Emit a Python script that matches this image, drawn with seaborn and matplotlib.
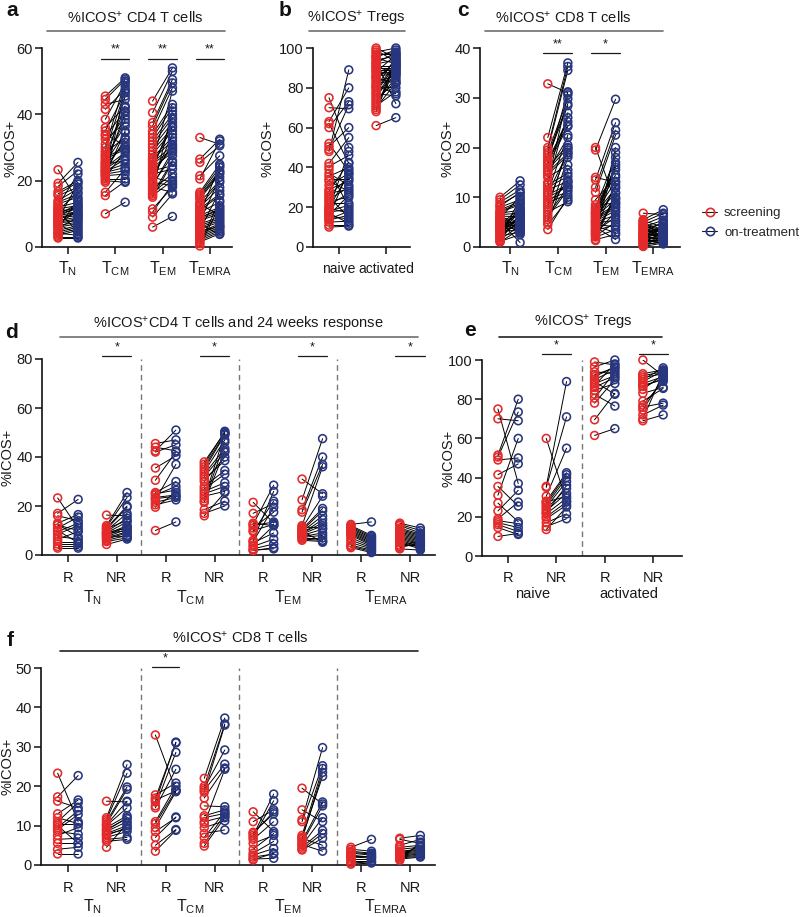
import numpy as np
import pandas as pd
import matplotlib
matplotlib.use("Agg")
import matplotlib.pyplot as plt
import seaborn as sns
from matplotlib.lines import Line2D

# ---------------- data ----------------
# panel a: %ICOS+ CD4 T cells (screening vs on-treatment)
a_categories = ["$T_{N}$", "$T_{CM}$", "$T_{EM}$", "$T_{EMRA}$"]
a_TN_scr = [23.3, 19.2, 18.3, 16.7, 16.0, 15.5, 14.0, 13.5, 13.0, 12.5, 12.0, 11.5, 11.0, 10.5, 10.0, 9.8, 9.5, 9.0, 8.7, 8.5,
            8.0, 7.5, 7.2, 7.0, 6.5, 6.0, 5.5, 5.0, 4.5, 4.0, 3.5, 3.0, 2.7, 11.8, 10.8, 9.2, 8.2, 6.8, 5.8, 4.2]
a_TN_trt = [14.0, 25.5, 23.0, 20.0, 19.5, 18.0, 17.5, 16.0, 15.0, 22.0, 13.5, 12.5, 16.5, 12.0, 11.5, 13.0, 10.5, 10.0, 9.5, 19.0,
            9.0, 8.5, 8.0, 11.0, 7.5, 7.0, 14.5, 6.5, 6.0, 5.5, 5.0, 3.0, 2.7, 9.8, 4.5, 12.2, 10.8, 4.0, 8.8, 3.5]
a_TCM_scr = [45.5, 44.5, 43.0, 41.5, 38.5, 36.0, 35.0, 33.5, 32.5, 31.0, 30.0, 28.5, 27.5, 27.0, 26.5, 26.0, 25.5, 25.0, 24.5, 24.0,
             23.5, 23.0, 22.5, 22.0, 21.5, 21.0, 20.5, 20.0, 19.5, 16.5, 15.5, 10.0, 25.2, 24.2, 22.8, 21.8, 27.8, 29.0, 34.0, 23.2]
a_TCM_trt = [51.0, 50.5, 44.5, 47.5, 49.5, 42.5, 46.5, 41.0, 37.5, 39.5, 50.0, 33.0, 36.5, 30.0, 29.5, 38.5, 34.5, 26.0, 31.5, 28.5,
             27.5, 25.0, 24.0, 23.0, 22.0, 29.0, 20.5, 19.5, 48.5, 23.5, 19.8, 13.5, 45.5, 40.5, 26.5, 35.0, 42.0, 47.0, 30.5, 32.5]
a_TEM_scr = [44.0, 40.5, 37.5, 36.5, 35.0, 34.0, 33.0, 32.0, 31.0, 30.0, 29.0, 28.0, 27.0, 26.5, 25.5, 25.0, 24.0, 23.5, 23.0, 22.0,
             21.5, 21.0, 20.0, 19.5, 19.0, 18.0, 17.5, 17.0, 16.0, 15.5, 15.0, 11.5, 10.5, 9.0, 6.0, 26.0, 24.5, 22.5, 18.5, 16.5]
a_TEM_trt = [54.0, 53.0, 50.5, 49.5, 48.0, 43.0, 42.0, 40.0, 39.0, 37.5, 36.0, 35.0, 33.0, 32.0, 30.5, 29.5, 28.5, 38.5, 24.5, 23.5,
             31.0, 19.5, 34.0, 18.5, 27.5, 16.5, 22.0, 41.0, 26.0, 20.0, 25.5, 18.0, 19.0, 16.0, 9.2, 47.0, 36.5, 30.0, 29.0, 21.0]
a_TEMRA_scr = [33.0, 26.5, 25.5, 21.5, 20.5, 16.5, 16.0, 15.5, 15.0, 14.5, 13.5, 12.5, 12.0, 11.5, 11.0, 10.5, 10.0, 9.5, 9.0, 8.5,
               8.0, 7.5, 7.0, 6.5, 6.0, 5.5, 5.0, 4.5, 4.0, 3.5, 3.0, 2.5, 2.0, 1.5, 1.0, 0.3, 13.0, 8.8, 6.8, 4.8]
a_TEMRA_trt = [31.0, 32.5, 30.5, 27.5, 32.0, 25.0, 24.0, 23.0, 22.5, 22.0, 20.0, 19.5, 18.0, 16.0, 15.5, 13.5, 24.5, 12.0, 11.0, 10.5,
               10.0, 21.0, 9.0, 8.5, 8.0, 7.5, 17.0, 7.0, 6.5, 6.0, 5.5, 5.0, 4.5, 4.0, 14.0, 12.5, 9.5, 11.5, 3.8, 6.2]
a_sig = [(1, "**"), (2, "**"), (3, "**")]

# panel b: %ICOS+ Tregs
b_categories = ["naive", "activated"]
b_naive_scr = [75, 70, 63, 62, 60, 52, 50.5, 49, 48, 42, 40.5, 39, 37, 35.5, 34, 33, 31, 29, 28, 27,
               26, 25, 24, 23, 22, 21, 20, 19.5, 19, 18, 17.5, 17, 16, 15.5, 15, 14, 13.5, 12.5, 11, 10]
b_naive_trt = [50, 69.5, 80, 42, 73, 38, 60, 71.5, 89, 55, 46, 20, 31, 40, 34, 28, 37, 33, 42.5, 29,
               35, 15, 30, 25, 22, 27, 36.5, 17, 48, 21, 19, 12, 26, 14, 39, 18, 16, 13, 11, 10.5]
b_act_scr = [100, 99, 98, 97, 96, 95, 94, 93, 92, 91, 90, 89, 88, 87, 86, 85, 84, 83, 82, 81,
             80, 79, 78, 77, 76, 75, 74, 73, 72, 71, 70, 69, 68, 61, 92.5, 88.5, 85.5, 80.5, 95.5, 90.5]
b_act_trt = [95, 93, 100, 97, 98, 92, 96, 72, 94, 91, 90, 89, 96.5, 88, 87, 82, 93.5, 86, 84, 77,
             95.5, 92.5, 91.5, 76, 90.5, 89.5, 83, 85, 88.5, 78, 82.5, 94.5, 92.8, 65, 97.5, 86.5, 91.2, 80, 99, 87.5]

# panel c: %ICOS+ CD8 T cells
c_TN_scr = [10, 9.5, 9, 8.5, 8, 7.5, 7, 6.8, 6.5, 6.2, 6, 5.7, 5.5, 5.2, 5, 4.7, 4.5, 4.2, 4, 3.7,
            3.5, 3.2, 3, 2.8, 2.5, 2.2, 2, 1.8, 1.5, 1.3, 1.1, 1.0, 5.8, 4.8, 3.8, 6.3, 7.2, 2.6, 8.2, 3.4]
c_TN_trt = [13.3, 12.5, 11.5, 10.8, 9.5, 9.1, 8.5, 7.4, 6.8, 6.1, 5.1, 4.1, 3.4, 2.8, 0.9, 6.5, 7.8, 5.5, 4.5, 3.8,
            5.8, 7.0, 8.0, 6.3, 4.8, 3.0, 5.3, 9.8, 4.3, 6.6, 2.5, 3.6, 10.2, 5.0, 7.2, 4.0, 8.8, 6.0, 11.0, 3.2]
c_TCM_scr = [32.8, 22, 20, 19.5, 19, 18.5, 18, 17.5, 17, 16.5, 16, 15.5, 15, 14.5, 13, 12.5, 12, 11.5, 11, 10.5,
             10, 9.5, 9, 8.5, 8, 7.5, 7, 6.5, 6, 5.5, 5, 4.5, 3.5, 17.2, 15.2, 12.8, 10.8, 8.8, 14, 16.8]
c_TCM_trt = [31, 37, 36.3, 35.5, 29.8, 28.8, 28.4, 25.2, 31.2, 24.2, 20.5, 19.9, 18.9, 18.5, 30.6, 14.8, 14.2, 13.2, 22.5, 12.5,
             12.1, 11.1, 10.5, 19.5, 20, 13.5, 9.1, 12, 11.5, 18, 15.5, 9.5, 10, 24.5, 22, 27, 19, 13, 16.5, 26]
c_TEM_scr = [20, 19.5, 14, 13.5, 12, 11, 8, 7.8, 7.5, 7.2, 7, 6.8, 6.5, 6.2, 6, 5.8, 5.5, 5.2, 5, 4.8,
             4.5, 4.2, 4, 3.8, 3.5, 3.2, 3, 2.8, 2.5, 2.2, 2, 1.5, 1.3, 8.5, 9.5, 6.6, 5.3, 4.6, 3.3, 2.6]
c_TEM_trt = [9, 29.7, 13, 25, 23.5, 22.5, 18, 16, 15.5, 14.5, 13.2, 11.8, 10.8, 9.5, 8.5, 8.1, 7.8, 7.3, 6.4, 5.4,
             4.1, 2.9, 1.5, 12.5, 17, 6, 10, 7, 20, 5, 3.5, 2.5, 11, 8.8, 14, 16.5, 12, 19, 4.5, 9.8]
c_TEMRA_scr = [6.8, 5.5, 5.3, 5, 4.8, 4.5, 4.3, 4, 3.8, 3.5, 3.3, 3, 2.8, 2.5, 2.3, 2, 1.8, 1.5, 1.3, 1,
               0.8, 0.5, 0.3, 0.1, 4.2, 3.6, 3.1, 2.6, 2.1, 1.6, 1.1, 0.7, 4.6, 3.9, 2.9, 1.9, 5.2, 2.4, 1.4, 0.4]
c_TEMRA_trt = [6.5, 7.5, 4, 6.8, 3.5, 6.1, 3, 5.4, 2.8, 4.8, 2.5, 3.3, 2, 2.3, 4.2, 1.8, 3.8, 1.5, 2.6, 1.2,
               3.1, 1, 2.1, 0.8, 2.9, 1.7, 3.6, 2.4, 1.4, 0.6, 4.5, 2.2, 3.2, 1.9, 5, 2.7, 1.6, 3.4, 2, 1.1]
c_sig = [(1, "**"), (2, "*")]

# panel d: %ICOS+ CD4 T cells by 24-week response (R / NR)
resp_labels = ["R", "NR", "R", "NR", "R", "NR", "R", "NR"]
d_TN_R_scr = [23.3, 17.0, 16.0, 13.0, 12.2, 11.0, 10.0, 9.5, 8.5, 7.5, 6.5, 5.5, 4.5, 3.5, 2.8, 12.5]
d_TN_R_trt = [11.0, 22.7, 14.0, 16.5, 10.0, 15.5, 5.0, 13.0, 12.0, 6.5, 9.5, 5.5, 4.5, 3.5, 2.8, 7.5]
d_TN_NR_scr = [16.3, 12.0, 11.5, 11.0, 10.5, 10.0, 9.5, 9.0, 8.5, 8.0, 7.5, 7.0, 6.5, 6.0, 5.5, 4.3, 10.8, 9.2, 7.8, 8.8]
d_TN_NR_trt = [16.0, 25.5, 23.5, 20.0, 19.5, 17.0, 15.0, 13.5, 12.0, 11.5, 10.5, 9.5, 9.0, 8.0, 7.0, 6.5, 14.0, 11.0, 7.5, 10.0]
d_TCM_R_scr = [45.5, 44.0, 42.5, 42.0, 35.5, 30.5, 25.5, 24.5, 23.5, 22.5, 21.5, 20.5, 19.5, 10.0, 25.0, 23.0]
d_TCM_R_trt = [47.0, 42.5, 51.0, 45.0, 40.5, 42.0, 30.0, 28.0, 24.5, 37.0, 23.5, 22.5, 25.5, 13.5, 26.5, 24.0]
d_TCM_NR_scr = [38, 37, 36, 35, 34, 33, 32, 31, 28, 27, 26, 25, 24, 23, 22, 21.5, 18.5, 17, 16, 30]
d_TCM_NR_trt = [50, 50.5, 49.5, 49, 47, 43.5, 42, 38.5, 34.5, 33, 29.5, 28, 26, 49.5, 46, 42.5, 22, 20, 25.5, 40]
d_TEM_R_scr = [21.5, 17, 13, 12.5, 12, 11, 10, 9.5, 6, 5, 4, 3.5, 2.5, 2, 5.5, 1.8]
d_TEM_R_trt = [13, 21, 12, 28.5, 13.5, 17.5, 12.5, 22, 26, 9, 12, 6.5, 4.5, 2.5, 19.5, 3]
d_TEM_NR_scr = [31, 22.5, 18.5, 17.5, 12, 11, 10.5, 10, 9.5, 9, 8.5, 8, 7.5, 7, 6.5, 6, 11.5, 8.8, 7.2, 9.8]
d_TEM_NR_trt = [25, 47.5, 40, 37, 36, 24, 19, 18, 16, 13, 12, 10.5, 9, 7, 6, 5.5, 11, 14.5, 8, 5.2]
d_TEMRA_R_scr = [12.5, 12, 11.5, 11, 10.5, 10, 9.5, 9, 8.5, 8, 7, 6, 5, 4, 3.5, 3]
d_TEMRA_R_trt = [13.5, 8, 7.5, 7, 6.5, 6, 5.5, 5, 4.5, 4, 3.5, 3, 2.5, 2, 1.5, 1]
d_TEMRA_NR_scr = [13, 12.5, 12, 11, 10.5, 10, 9.5, 9, 8.5, 8, 7.5, 7, 6.5, 6, 5.5, 5, 4, 3.5, 3, 2.5]
d_TEMRA_NR_trt = [11, 10, 9, 8.5, 8, 7.5, 7, 6.5, 6, 5.5, 5, 4.5, 4, 3.5, 3, 2.5, 4, 6, 5, 2]
d_sig = [(1, "*"), (3, "*"), (5, "*"), (7, "*")]

# panel e: %ICOS+ Tregs by response
e_naive_R_scr = [75, 70, 51.5, 50.5, 49, 41.5, 35.5, 31, 27, 23, 19, 18, 17, 16, 14.5, 10]
e_naive_R_trt = [37, 69, 80, 73.5, 50, 47, 25.5, 60, 17.5, 33.5, 27.5, 16.5, 14.5, 12.5, 11, 11.5]
e_naive_NR_scr = [60, 35.5, 35, 30.5, 28, 27, 26, 25, 24, 23, 21.5, 20, 19, 17, 15, 13.5, 27.5, 22]
e_naive_NR_trt = [28, 89, 71, 55, 42.5, 41.5, 40, 38, 34.5, 32, 29.5, 27.5, 26, 21.5, 19, 25, 30.5, 36]
e_act_R_scr = [99, 96.5, 94, 91.5, 90, 89, 88, 87, 84.5, 82.5, 80.5, 78, 69.5, 61.5, 92.5, 86]
e_act_R_trt = [97.5, 100, 93, 96.5, 95, 82.5, 92, 98, 88, 76.5, 94, 90, 83, 65, 96, 91]
e_act_NR_scr = [100, 93, 92, 91, 90, 88, 87, 85, 83, 79, 77, 76, 74.5, 72, 70, 69, 89, 86.5]
e_act_NR_trt = [92, 95, 94, 93, 96, 91.5, 90, 92.5, 86, 85.5, 89, 78, 91, 77, 93.5, 72, 94.5, 90.5]
e_sig = [(1, "*"), (3, "*")]

# panel f: %ICOS+ CD8 T cells by response
f_TN_R_scr = [23.3, 17.3, 16.2, 13, 12, 11, 10, 9.5, 9, 8.5, 7.5, 6.5, 5.5, 4, 2.8, 10.5]
f_TN_R_trt = [11, 22.7, 14.5, 16.5, 10.5, 15.8, 5.5, 13.8, 12.8, 7.8, 9.5, 6.8, 5.5, 4.5, 2.8, 10.5]
f_TN_NR_scr = [16.2, 12, 11.5, 11, 10.5, 10, 9.5, 9, 8.5, 8, 7.5, 7, 6.5, 6, 4.5, 10.2, 8.8, 7.8]
f_TN_NR_trt = [16, 25.5, 23.3, 19.8, 19.2, 14.5, 12.5, 11.8, 11, 10, 9.5, 8.5, 7, 6.5, 10.5, 16.2, 12, 9.2]
f_TCM_R_scr = [33, 17.8, 17, 16, 15, 14.5, 11, 10.5, 9.5, 8.5, 7, 5, 3.5, 16.5]
f_TCM_R_trt = [19, 20.8, 31, 31.2, 28.6, 24.3, 20, 19, 18.6, 12, 12.2, 9, 8.8, 18.8]
f_TCM_NR_scr = [22, 20, 19.5, 19, 17, 15, 12.5, 12, 11, 9.5, 8, 7, 5.5, 4.8, 18.5, 10.5]
f_TCM_NR_trt = [37.3, 35.8, 29.2, 25.6, 24.6, 14.8, 14, 13.1, 12.3, 11.2, 8.9, 13.5, 12.8, 12, 35.5, 24.3]
f_TEM_R_scr = [13.5, 11, 8, 7.5, 7, 6.5, 4, 3, 2.5, 2, 1.5, 1.3, 5.5, 8.3]
f_TEM_R_trt = [8.5, 14, 13.5, 18, 16.3, 11, 8, 6, 4.2, 2.8, 1.7, 3, 7.5, 13]
f_TEM_NR_scr = [19.5, 14, 11.5, 11, 7.5, 7, 6.5, 6, 5.5, 5, 4.5, 4, 3.8, 6.8, 5.2]
f_TEM_NR_trt = [15.5, 11, 29.8, 25.2, 24.5, 22.5, 23.5, 16, 15, 12, 8.8, 8, 6.8, 5, 3.5]
f_TEMRA_R_scr = [4.5, 4, 3.5, 3, 2.5, 2, 1.5, 1, 0.5, 0.2, 3.2, 2.2]
f_TEMRA_R_trt = [6.5, 3.5, 3, 2.5, 2, 1.8, 1.5, 1, 0.8, 0.5, 2.8, 2.2]
f_TEMRA_NR_scr = [6.8, 6.5, 5, 4.5, 4, 3.5, 3, 2.8, 2.5, 2.2, 2, 1.8, 1.5, 1.2, 3.2, 2.6]
f_TEMRA_NR_trt = [7.5, 5.5, 6.5, 5, 4.5, 4, 3.5, 3.2, 3, 2.8, 2.5, 2.2, 2, 5.8, 3.8, 4.8]
f_sig = [(2, "*")]

legend_labels = ["screening", "on-treatment"]

# ---------------- style ----------------
sns.set_theme(style="ticks")
plt.rcParams["font.family"] = ["Liberation Sans", "DejaVu Sans"]
plt.rcParams["mathtext.default"] = "regular"

W, H = 800, 917
RED, BLUE = "#e42a2a", "#28367f"
TXT = "#1a1a1a"
OFF = 0.21

fig = plt.figure(figsize=(W / 100, H / 100), dpi=100)


def add_ax(l, t, r, b):
    return fig.add_axes([l / W, 1 - b / H, (r - l) / W, (b - t) / H])


def fx(x):
    return x / W


def fy(y):
    return 1 - y / H


def paired(ax, groups):
    rows = []
    pid = 0
    for pos, scr, trt in groups:
        for s, t in zip(scr, trt):
            rows.append((pos - OFF, s, legend_labels[0], pid))
            rows.append((pos + OFF, t, legend_labels[1], pid))
            pid += 1
    df = pd.DataFrame(rows, columns=["x", "value", "time", "pid"])
    sns.lineplot(data=df, x="x", y="value", units="pid", estimator=None, color="black",
                 lw=0.7, ax=ax, legend=False, sort=False, zorder=2)
    for name, c in zip(legend_labels, [RED, BLUE]):
        sns.scatterplot(data=df[df.time == name], x="x", y="value", ax=ax, s=32,
                        color=c, facecolor="none", edgecolor=c, linewidth=1.15,
                        zorder=3, legend=False, clip_on=False)
    ax.set_xlabel("")
    ax.set_ylabel("")


def setup(ax, xlim, ylim, yticks, xticks, xlabels, xfs=10.5, pad=3.5, yfs=10.5):
    ax.set_xlim(*xlim)
    ax.set_ylim(*ylim)
    ax.set_yticks(yticks)
    ax.set_xticks(xticks)
    ax.set_xticklabels(xlabels)
    sns.despine(ax=ax)
    for s in ["left", "bottom"]:
        ax.spines[s].set_linewidth(1.2)
        ax.spines[s].set_color("#111")
    ax.tick_params(axis="both", direction="out", length=5, width=1.1, colors="#111",
                   labelcolor=TXT)
    ax.tick_params(axis="x", labelsize=xfs, pad=pad)
    ax.tick_params(axis="y", labelsize=yfs, pad=1.5)


def sig(ax, items, y, half=0.3):
    for pos, s in items:
        ax.plot([pos - half, pos + half], [y, y], color="k", lw=0.9, clip_on=False)
        ax.annotate(s, xy=(pos, y), xytext=(0, 2), textcoords="offset points",
                    ha="center", va="bottom", fontsize=9, color=TXT, annotation_clip=False)


def title(text, xc, y, x0, x1, yl, lc="#6e6e6e"):
    fig.text(fx(xc), fy(y), text, ha="center", va="center", fontsize=10.5, color=TXT)
    fig.add_artist(Line2D([fx(x0), fx(x1)], [fy(yl), fy(yl)], color=lc, lw=1.2))


def ylab(x, y):
    fig.text(fx(x), fy(y), "%ICOS+", rotation=90, ha="center", va="center", fontsize=10.5, color=TXT)


def letter(s, x, y):
    fig.text(fx(x), fy(y), s, ha="center", va="center", fontsize=15, fontweight="bold", color="#111")


def group_labels(ax, items, off_pt, fs=10.5):
    for pos, s in items:
        ax.annotate(s, xy=(pos, 0), xycoords=("data", "axes fraction"), xytext=(0, -off_pt),
                    textcoords="offset points", ha="center", va="center", fontsize=fs,
                    color=TXT, annotation_clip=False)


sup = "$^{+}$"

# ---------------- panel a ----------------
ax = add_ax(42, 48, 232, 247)
paired(ax, [(0, a_TN_scr, a_TN_trt), (1, a_TCM_scr, a_TCM_trt),
            (2, a_TEM_scr, a_TEM_trt), (3, a_TEMRA_scr, a_TEMRA_trt)])
setup(ax, (-0.55, 3.47), (0, 60), [0, 20, 40, 60], range(4), a_categories, xfs=11.5)
sig(ax, a_sig, 56.8)
title("%ICOS" + sup + " CD4 T cells", 135, 18, 47, 225, 31)
ylab(11, 148)
letter("a", 12, 10)

# ---------------- panel b ----------------
ax = add_ax(313, 48, 410, 247)
paired(ax, [(0, b_naive_scr, b_naive_trt), (1, b_act_scr, b_act_trt)])
setup(ax, (-0.55, 1.51), (0, 100), [0, 20, 40, 60, 80, 100], range(2), b_categories, xfs=10, pad=6)
title("%ICOS" + sup + " Tregs", 356, 18, 309, 405, 31)
ylab(268, 148)
letter("b", 285, 10)

# ---------------- panel c ----------------
ax = add_ax(480, 48, 680, 247)
paired(ax, [(0, c_TN_scr, c_TN_trt), (1, c_TCM_scr, c_TCM_trt),
            (2, c_TEM_scr, c_TEM_trt), (3, c_TEMRA_scr, c_TEMRA_trt)])
setup(ax, (-0.63, 3.56), (0, 40), [0, 10, 20, 30, 40], range(4), a_categories, xfs=11.5)
sig(ax, c_sig, 39.0)
title("%ICOS" + sup + " CD8 T cells", 563, 18, 485, 663, 31)
ylab(447, 148)
letter("c", 463, 10)

handles = [Line2D([0], [0], color="k", lw=0.8, marker="o", ms=6, mfc="none", mec=c, mew=1.2)
           for c in (RED, BLUE)]
fig.legend(handles, legend_labels, loc="center left", bbox_to_anchor=(fx(699), fy(223)),
           frameon=False, fontsize=9.5, handlelength=1.2, handletextpad=0.5, labelspacing=0.55,
           borderaxespad=0, borderpad=0.2)

# ---------------- panel d ----------------
ax = add_ax(42, 359, 435, 555)
paired(ax, [(0, d_TN_R_scr, d_TN_R_trt), (1, d_TN_NR_scr, d_TN_NR_trt),
            (2, d_TCM_R_scr, d_TCM_R_trt), (3, d_TCM_NR_scr, d_TCM_NR_trt),
            (4, d_TEM_R_scr, d_TEM_R_trt), (5, d_TEM_NR_scr, d_TEM_NR_trt),
            (6, d_TEMRA_R_scr, d_TEMRA_R_trt), (7, d_TEMRA_NR_scr, d_TEMRA_NR_trt)])
setup(ax, (-0.53, 7.51), (0, 80), [0, 20, 40, 60, 80], range(8), resp_labels, pad=6.5)
for p in (1.5, 3.5, 5.5):
    ax.axvline(p, color="#777", ls=(0, (4, 3)), lw=1.0, zorder=1)
sig(ax, d_sig, 81.2)
group_labels(ax, [(0.5, a_categories[0]), (2.5, a_categories[1]),
                  (4.5, a_categories[2]), (6.5, a_categories[3])], 31, fs=11.5)
title("%ICOS" + sup + "CD4 T cells and 24 weeks response", 238, 325, 60, 418, 337)
ylab(8, 457)
letter("d", 12, 332)

# ---------------- panel e ----------------
ax = add_ax(482, 360, 682, 556)
paired(ax, [(0, e_naive_R_scr, e_naive_R_trt), (1, e_naive_NR_scr, e_naive_NR_trt),
            (2, e_act_R_scr, e_act_R_trt), (3, e_act_NR_scr, e_act_NR_trt)])
setup(ax, (-0.54, 3.6), (0, 100), [0, 20, 40, 60, 80, 100], range(4), resp_labels[:4], pad=5.5)
ax.axvline(1.53, color="#777", ls=(0, (4, 3)), lw=1.0, zorder=1)
sig(ax, e_sig, 103)
group_labels(ax, [(0.5, b_categories[0]), (2.5, b_categories[1])], 27)
title("%ICOS" + sup + " Tregs", 583, 323, 499, 662, 337, lc="#222")
ylab(448, 458)
letter("e", 470, 330)

# ---------------- panel f ----------------
ax = add_ax(41, 668, 435, 865)
paired(ax, [(0, f_TN_R_scr, f_TN_R_trt), (1, f_TN_NR_scr, f_TN_NR_trt),
            (2, f_TCM_R_scr, f_TCM_R_trt), (3, f_TCM_NR_scr, f_TCM_NR_trt),
            (4, f_TEM_R_scr, f_TEM_R_trt), (5, f_TEM_NR_scr, f_TEM_NR_trt),
            (6, f_TEMRA_R_scr, f_TEMRA_R_trt), (7, f_TEMRA_NR_scr, f_TEMRA_NR_trt)])
setup(ax, (-0.55, 7.51), (0, 50), [0, 10, 20, 30, 40, 50], range(8), resp_labels, pad=6.5)
for p in (1.5, 3.5, 5.5):
    ax.axvline(p, color="#777", ls=(0, (4, 3)), lw=1.0, zorder=1)
sig(ax, f_sig, 50.3, half=0.28)
group_labels(ax, [(0.5, a_categories[0]), (2.5, a_categories[1]),
                  (4.5, a_categories[2]), (6.5, a_categories[3])], 30, fs=11.5)
title("%ICOS" + sup + " CD8 T cells", 240, 638, 60, 418, 651, lc="#222")
ylab(7, 766)
letter("f", 10, 640)

fig.savefig("out.png", dpi=100)
